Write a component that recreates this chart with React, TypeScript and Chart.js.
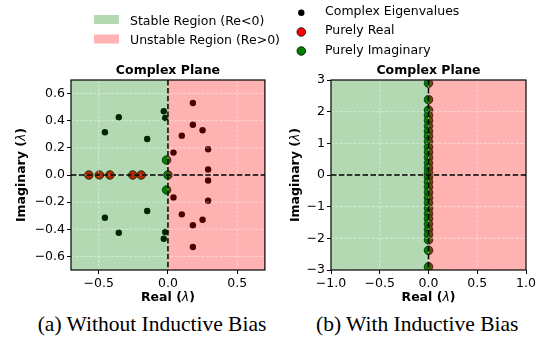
import React, { useEffect, useRef } from 'react';
import { Chart, registerables } from 'chart.js';
Chart.register(...registerables);

// ---------- data: (a) Without Inductive Bias ----------
const complexReA = [0.18, 0.18, 0.18, 0.18, 0.25, 0.25, 0.10, 0.10, 0.29, 0.29, 0.04, 0.04, 0.29, 0.29,
  -0.355, -0.355, -0.455, -0.455, -0.15, -0.15, -0.03, -0.03, -0.02, -0.02];
const complexImA = [0.53, -0.53, 0.37, -0.37, 0.33, -0.33, 0.29, -0.29, 0.19, -0.19, 0.165, -0.165, 0.04, -0.04,
  0.425, -0.425, 0.315, -0.315, 0.265, -0.265, 0.47, -0.47, 0.42, -0.42];
const realReA = [-0.571, -0.495, -0.419, -0.254, -0.193];
const realImA = [0, 0, 0, 0, 0];
const imagReA = [-0.01, 0.0, -0.01];
const imagImA = [0.11, 0.0, -0.11];
const xTicksA = [-0.5, 0, 0.5];
const yTicksA = [-0.6, -0.4, -0.2, 0, 0.2, 0.4, 0.6];

// ---------- data: (b) With Inductive Bias ----------
const imagImB = [2.9, 2.38, 2.05, 1.88, 1.72, 1.55, 1.38, 1.22, 1.05, 0.88, 0.72, 0.55, 0.38, 0.22, 0.07,
  -0.07, -0.22, -0.38, -0.55, -0.72, -0.88, -1.05, -1.22, -1.38, -1.55, -1.72, -1.88, -2.05, -2.38, -2.9];
const imagReB = [0, 0, 0, 0, 0, 0, 0, 0, 0, 0, 0, 0, 0, 0, 0,
  0, 0, 0, 0, 0, 0, 0, 0, 0, 0, 0, 0, 0, 0, 0];
const xTicksB = [-1, -0.5, 0, 0.5, 1];
const yTicksB = [-3, -2, -1, 0, 1, 2, 3];

// legend labels
const regionLabels = ['Stable Region (Re<0)', 'Unstable Region (Re>0)'];
const markerLabels = ['Complex Eigenvalues', 'Purely Real', 'Purely Imaginary'];

const FONT = '"DejaVu Sans", sans-serif';
const FS = 12.5;

function fmt(v: number, d: number) {
  const s = Math.abs(v).toFixed(d);
  return (v < -1e-9 ? '\u2212' : '') + s;
}

type Seg = { t: string; f: string };
function drawSegs(ctx: CanvasRenderingContext2D, segs: Seg[], cx: number, cy: number) {
  let total = 0;
  segs.forEach(s => { ctx.font = s.f; total += ctx.measureText(s.t).width; });
  let x = cx - total / 2;
  ctx.textBaseline = 'middle';
  ctx.textAlign = 'left';
  segs.forEach(s => { ctx.font = s.f; ctx.fillText(s.t, x, cy); x += ctx.measureText(s.t).width; });
}

function makeDecor(yLabelX: number) {
  return {
    id: 'decor',
    afterDatasetsDraw(chart: any) {
      const { ctx, chartArea: a, scales } = chart;
      const xs = scales.x, ys = scales.y;
      const x0 = xs.getPixelForValue(0);
      const y0 = ys.getPixelForValue(0);
      const line = (x1: number, y1: number, x2: number, y2: number) => {
        ctx.beginPath(); ctx.moveTo(x1, y1); ctx.lineTo(x2, y2); ctx.stroke();
      };
      ctx.save();
      ctx.fillStyle = 'rgba(0,128,0,0.3)';
      ctx.fillRect(a.left, a.top, x0 - a.left, a.bottom - a.top);
      ctx.fillStyle = 'rgba(255,0,0,0.3)';
      ctx.fillRect(x0, a.top, a.right - x0, a.bottom - a.top);
      ctx.strokeStyle = 'rgba(255,255,255,0.55)';
      ctx.lineWidth = 0.8;
      ctx.setLineDash([3, 1.5]);
      xs.ticks.forEach((t: any) => { const p = xs.getPixelForValue(t.value); line(p, a.top, p, a.bottom); });
      ys.ticks.forEach((t: any) => { const p = ys.getPixelForValue(t.value); line(a.left, p, a.right, p); });
      ctx.strokeStyle = '#000';
      ctx.lineWidth = 1.5;
      ctx.setLineDash([5.5, 2.4]);
      line(a.left, y0, a.right, y0);
      line(x0, a.top, x0, a.bottom);
      ctx.setLineDash([]);
      ctx.lineWidth = 1.2;
      ctx.strokeRect(a.left, a.top, a.right - a.left, a.bottom - a.top);
      ctx.restore();
    },
    afterDraw(chart: any) {
      const { ctx, chartArea: a } = chart;
      ctx.save();
      ctx.fillStyle = '#000';
      const cx = (a.left + a.right) / 2;
      drawSegs(ctx, [{ t: 'Complex Plane', f: `bold ${FS}px ${FONT}` }], cx, a.top - 9);
      const lab: Seg[] = [
        { t: 'Real (', f: `bold ${FS}px ${FONT}` },
        { t: 'λ', f: `italic ${FS}px ${FONT}` },
        { t: ')', f: `bold ${FS}px ${FONT}` },
      ];
      drawSegs(ctx, lab, cx, a.bottom + 28);
      const ylab: Seg[] = [
        { t: 'Imaginary (', f: `bold ${FS}px ${FONT}` },
        { t: 'λ', f: `italic ${FS}px ${FONT}` },
        { t: ')', f: `bold ${FS}px ${FONT}` },
      ];
      ctx.translate(yLabelX, (a.top + a.bottom) / 2);
      ctx.rotate(-Math.PI / 2);
      drawSegs(ctx, ylab, 0, 0);
      ctx.restore();
    },
  };
}

function pts(xs: number[], ys: number[]) {
  return xs.map((x, i) => ({ x, y: ys[i] }));
}

function axis(min: number, max: number, ticks: number[], dec: number, isX: boolean, size: number) {
  return {
    type: 'linear',
    min, max,
    afterBuildTicks: (s: any) => { s.ticks = ticks.map(v => ({ value: v })); },
    afterFit: (s: any) => { if (isX) s.height = size; else s.width = size; },
    ticks: {
      font: { family: FONT, size: FS }, color: '#000', padding: 2,
      maxRotation: 0, autoSkip: false,
      callback: (v: any) => fmt(Number(v), dec),
    },
    grid: { drawOnChartArea: false, drawTicks: true, tickLength: 4, tickColor: '#000', tickWidth: 1 },
    border: { display: false },
  };
}

function useChart(ref: React.RefObject<HTMLCanvasElement | null>, cfg: () => any) {
  useEffect(() => {
    if (!ref.current) return;
    const c = new Chart(ref.current, cfg());
    return () => c.destroy();
  }, []);
}

const common = (rightPad: number) => ({
  responsive: false,
  animation: false,
  devicePixelRatio: 1,
  events: [],
  layout: { padding: { top: 20, right: rightPad, left: 0, bottom: 0 } },
  plugins: { legend: { display: false }, tooltip: { enabled: false }, title: { display: false } },
});

function drawLegend(c: HTMLCanvasElement) {
  const ctx = c.getContext('2d')!;
  ctx.clearRect(0, 0, c.width, c.height);
  ctx.font = `${FS}px ${FONT}`;
  ctx.textBaseline = 'alphabetic';
  ctx.textAlign = 'left';
  ctx.fillStyle = 'rgb(179,217,179)';
  ctx.fillRect(94, 15, 25, 9);
  ctx.fillStyle = 'rgb(255,179,179)';
  ctx.fillRect(94, 34.5, 25, 9);
  ctx.fillStyle = '#000';
  ctx.fillText(regionLabels[0], 130, 25);
  ctx.fillText(regionLabels[1], 130, 44.4);
  const dot = (cy: number, r: number, fill: string, edge: boolean) => {
    ctx.beginPath(); ctx.arc(301.3, cy, r, 0, Math.PI * 2);
    ctx.fillStyle = fill; ctx.fill();
    if (edge) { ctx.lineWidth = 0.8; ctx.strokeStyle = '#000'; ctx.stroke(); }
  };
  dot(12.7, 3.2, '#000', false);
  dot(32, 4.3, '#ff0000', true);
  dot(51, 4.3, '#008000', true);
  ctx.fillStyle = '#000';
  ctx.fillText(markerLabels[0], 325, 15.3);
  ctx.fillText(markerLabels[1], 325, 33.7);
  ctx.fillText(markerLabels[2], 325, 53.7);
}

export default function App() {
  const refA = useRef<HTMLCanvasElement>(null);
  const refB = useRef<HTMLCanvasElement>(null);
  const refL = useRef<HTMLCanvasElement>(null);

  useEffect(() => { if (refL.current) drawLegend(refL.current); }, []);

  useChart(refA, () => ({
    type: 'scatter',
    data: {
      datasets: [
        { label: 'Purely Imaginary', data: pts(imagReA, imagImA), backgroundColor: '#008000', borderColor: '#000', borderWidth: 0.8, pointRadius: 4.3 },
        { label: 'Purely Real', data: pts(realReA, realImA), backgroundColor: '#ff0000', borderColor: '#000', borderWidth: 0.8, pointRadius: 4.3 },
        { label: 'Complex Eigenvalues', data: pts(complexReA, complexImA), backgroundColor: '#000', borderColor: '#000', borderWidth: 0, pointRadius: 3.2 },
      ],
    },
    options: {
      ...common(4),
      scales: { x: axis(-0.7, 0.7, xTicksA, 1, true, 40), y: axis(-0.7, 0.7, yTicksA, 1, false, 71) },
    },
    plugins: [makeDecor(22)],
  }));

  useChart(refB, () => ({
    type: 'scatter',
    data: {
      datasets: [
        { label: 'Purely Imaginary', data: pts(imagReB, imagImB), backgroundColor: '#008000', borderColor: '#000', borderWidth: 0.8, pointRadius: 4.3 },
      ],
    },
    options: {
      ...common(16),
      scales: { x: axis(-1, 1, xTicksB, 1, true, 40), y: axis(-3, 3, yTicksB, 0, false, 61) },
    },
    plugins: [makeDecor(26)],
  }));

  const cap: React.CSSProperties = {
    position: 'absolute', top: 314, fontFamily: '"Liberation Serif", "Times New Roman", serif', fontSize: 21.5,
    lineHeight: 1, color: '#000', whiteSpace: 'nowrap',
  };

  return (
    <div style={{ position: 'absolute', left: 0, top: 0, width: 542, height: 339, background: '#fff', overflow: 'hidden' }}>
      <canvas ref={refL} width={542} height={60} style={{ position: 'absolute', left: 0, top: 0, width: 542, height: 60 }} />
      <div style={{ position: 'absolute', left: 0, top: 60, width: 270, height: 250 }}>
        <canvas ref={refA} width={270} height={250} style={{ width: 270, height: 250, display: 'block' }} />
      </div>
      <div style={{ position: 'absolute', left: 270, top: 60, width: 272, height: 250 }}>
        <canvas ref={refB} width={272} height={250} style={{ width: 272, height: 250, display: 'block' }} />
      </div>
      <div style={{ ...cap, left: 152, transform: 'translateX(-50%)' }}>(a) Without Inductive Bias</div>
      <div style={{ ...cap, left: 316 }}>(b) With Inductive Bias</div>
    </div>
  );
}
